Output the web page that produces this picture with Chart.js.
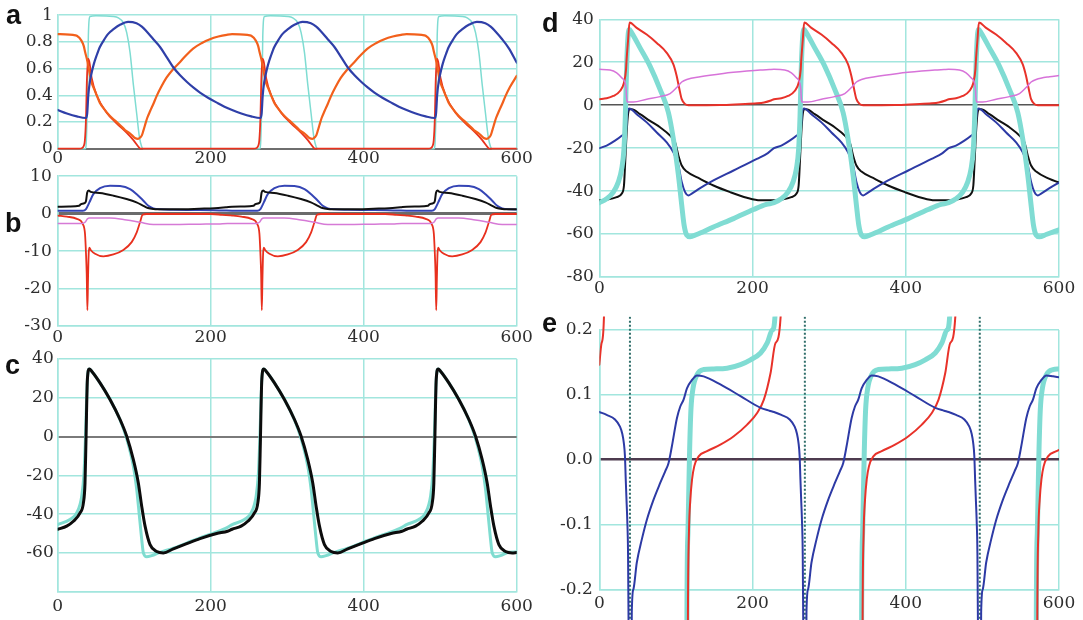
<!DOCTYPE html>
<html><head><meta charset="utf-8">
<script src="https://cdn.jsdelivr.net/npm/chart.js@4/dist/chart.umd.min.js"></script>
<style>
body{margin:0;background:#fff;width:1083px;height:620px;overflow:hidden;position:relative}
canvas{position:absolute}
.lbl{position:absolute;font:bold 27px "Liberation Sans",Arial,sans-serif;line-height:27px;color:#111}
</style></head><body>
<canvas id="pa" width="545" height="175" style="left:0;top:0"></canvas>
<canvas id="pb" width="545" height="190" style="left:0;top:160px"></canvas>
<canvas id="pc" width="545" height="280" style="left:0;top:340px"></canvas>
<canvas id="pd" width="543" height="300" style="left:540px;top:0"></canvas>
<canvas id="pe" width="543" height="320" style="left:540px;top:300px"></canvas>
<div class="lbl" style="left:6px;top:2px">a</div>
<div class="lbl" style="left:5px;top:210px">b</div>
<div class="lbl" style="left:5px;top:352px">c</div>
<div class="lbl" style="left:542px;top:10px">d</div>
<div class="lbl" style="left:542px;top:310px">e</div>
<script>
// ---------- tick labels ----------
const xTicks = [0, 200, 400, 600];
const xLabels = ['0', '200', '400', '600'];
const aYTicks = [0, 0.2, 0.4, 0.6, 0.8, 1];
const aYLabels = ['0', '0.2', '0.4', '0.6', '0.8', '1'];
const bYTicks = [-30, -20, -10, 0, 10];
const bYLabels = ['-30', '-20', '-10', '0', '10'];
const cYTicks = [-80, -60, -40, -20, 0, 20, 40];
const cYLabels = ['', '-60', '-40', '-20', '0', '20', '40'];
const dYTicks = [-80, -60, -40, -20, 0, 20, 40];
const dYLabels = ['-80', '-60', '-40', '-20', '0', '20', '40'];
const eYTicks = [-0.2, -0.1, 0, 0.1, 0.2];
const eYLabels = ['-0.2', '-0.1', '0.0', '0.1', '0.2'];

// ---------- panel a ----------
const aBlue = [[0,.29],[12,.264],[25,.242],[37,.23],[38.5,.26],[40,.40],[42,.50],[44,.56],[47,.63],[51,.70],[55,.76],[60,.81],[66,.86],[73,.895],[82,.93],[92,.95],[103,.94],[110,.915],[116,.88],[125,.82],[134,.76],[142,.69],[151,.61],[160,.55],[169,.50],[178,.455],[186,.42],[197,.38],[208,.345],[218,.315],
[228,.29],[240,.264],[253,.242],[265,.23],[266.5,.26],[268,.40],[270,.50],[272,.56],[275,.63],[279,.70],[283,.76],[288,.81],[294,.86],[301,.895],[310,.93],[320,.95],[331,.94],[338,.915],[344,.88],[353,.82],[362,.76],[370,.69],[379,.61],[388,.55],[397,.50],[406,.455],[414,.42],[425,.38],[436,.345],[446,.315],
[456,.29],[468,.264],[481,.242],[493,.23],[494.5,.26],[496,.40],[498,.50],[500,.56],[503,.63],[507,.70],[511,.76],[516,.81],[522,.86],[529,.895],[538,.93],[548,.95],[559,.94],[566,.915],[572,.88],[581,.82],[590,.75],[600,.645]];
const aOrange = [[0,.858],[10,.857],[20,.852],[25,.846],[31,.81],[34,.77],[36,.72],[39,.65],[41.5,.57],[44,.50],[47,.455],[51,.40],[55,.345],[61,.295],[68,.247],[75,.21],[82,.174],[88,.14],[95,.112],[101,.08],[105,.073],[108,.085],[110,.10],[112,.135],[114,.174],[117,.23],[121,.284],[125,.335],[129,.39],[135,.46],[142,.53],[150,.59],[160,.65],[168,.70],[177,.75],[188,.79],[199,.82],[210,.84],[221,.853],
[228,.858],[238,.857],[248,.852],[253,.846],[259,.81],[262,.77],[264,.72],[267,.65],[269.5,.57],[272,.50],[275,.455],[279,.40],[283,.345],[289,.295],[296,.247],[303,.21],[310,.174],[316,.14],[323,.112],[329,.08],[333,.073],[336,.085],[338,.10],[340,.135],[342,.174],[345,.23],[349,.284],[353,.335],[357,.39],[363,.46],[370,.53],[378,.59],[388,.65],[396,.70],[405,.75],[416,.79],[427,.82],[438,.84],[449,.853],
[456,.858],[466,.857],[476,.852],[481,.846],[487,.81],[490,.77],[492,.72],[495,.65],[497.5,.57],[500,.50],[503,.455],[507,.40],[511,.345],[517,.295],[524,.247],[531,.21],[538,.174],[544,.14],[551,.112],[557,.08],[561,.073],[564,.085],[566,.10],[568,.135],[570,.174],[573,.23],[577,.284],[581,.335],[585,.39],[591,.46],[600,.545]];
const aRed = [[0,0],[28,0],[32,.005],[34,.02],[35.5,.06],[37,.23],[38,.48],[39.5,.675],[41.4,.65],[44.4,.53],[51,.40],[64,.27],[77,.19],[90,.12],[99,.064],[107,.005],[108,0],
[256,0],[260,.005],[262,.02],[263.5,.06],[265,.23],[266,.48],[267.5,.675],[269.4,.65],[272.4,.53],[279,.40],[292,.27],[305,.19],[318,.12],[327,.064],[335,.005],[336,0],
[484,0],[488,.005],[490,.02],[491.5,.06],[493,.23],[494,.48],[495.5,.675],[497.4,.65],[500.4,.53],[507,.40],[520,.27],[533,.19],[546,.12],[555,.064],[563,.005],[564,0],[600,0]];
const aCyan = [[0,0],[36,0],[37,.02],[38.8,.36],[40.1,.85],[42.3,.99],[50,.995],[72.8,.99],[79.3,.98],[85.8,.944],[90.2,.87],[94.6,.72],[98.9,.48],[103.3,.26],[106.8,.088],[109.8,.015],[112,0],
[264,0],[265,.02],[266.8,.36],[268.1,.85],[270.3,.99],[278,.995],[300.8,.99],[307.3,.98],[313.8,.944],[318.2,.87],[322.6,.72],[326.9,.48],[331.3,.26],[334.8,.088],[337.8,.015],[340,0],
[492,0],[493,.02],[494.8,.36],[496.1,.85],[498.3,.99],[506,.995],[528.8,.99],[535.3,.98],[541.8,.944],[546.2,.87],[550.6,.72],[554.9,.48],[559.3,.26],[562.8,.088],[565.8,.015],[568,0],[600,0]];

// ---------- panel b ----------
const bBlack = [[0,1.85],[15,1.9],[28,2.1],[30,2.5],[35,2.8],[37,3.4],[38.5,5.6],[40.5,6.2],[43,5.8],[55,5.5],[73,4.8],[90,3.9],[103,3.0],[112,2.1],[118,1.5],[125,1.25],[140,1.15],[165,1.15],[185,1.3],[205,1.45],[220,1.7],
[228,1.85],[243,1.9],[256,2.1],[258,2.5],[263,2.8],[265,3.4],[266.5,5.6],[268.5,6.2],[271,5.8],[283,5.5],[301,4.8],[318,3.9],[331,3.0],[340,2.1],[346,1.5],[353,1.25],[368,1.15],[393,1.15],[413,1.3],[433,1.45],[448,1.7],
[456,1.85],[471,1.9],[484,2.1],[486,2.5],[491,2.8],[493,3.4],[494.5,5.6],[496.5,6.2],[499,5.8],[511,5.5],[529,4.8],[546,3.9],[559,3.0],[568,2.1],[574,1.5],[581,1.25],[596,1.15],[600,1.15]];
const bBlue = [[0,.8],[33,.8],[37,1.24],[41.4,3.0],[46.6,5.2],[55.3,6.8],[68.4,7.45],[81.5,7.36],[94.6,6.56],[103.3,5.2],[112,3.46],[118.5,2.1],[125,1.42],[133.8,1.15],[151,1.06],[177,.98],[203,.9],[220,.82],
[228,.8],[261,.8],[265,1.24],[269.4,3.0],[274.6,5.2],[283.3,6.8],[296.4,7.45],[309.5,7.36],[322.6,6.56],[331.3,5.2],[340,3.46],[346.5,2.1],[353,1.42],[361.8,1.15],[379,1.06],[405,.98],[431,.9],[448,.82],
[456,.8],[489,.8],[493,1.24],[497.4,3.0],[502.6,5.2],[511.3,6.8],[524.4,7.45],[537.5,7.36],[550.6,6.56],[559.3,5.2],[568,3.46],[574.5,2.1],[581,1.42],[589.8,1.15],[600,1.1]];
const bPink = [[0,-2.6],[31,-2.6],[35.7,-2.3],[38.8,-1.4],[41.4,-1.15],[68,-1.15],[90,-1.7],[107.6,-2.3],[125,-2.9],[151,-2.9],[186,-2.8],[210,-2.75],[222,-2.6],
[228,-2.6],[259,-2.6],[263.7,-2.3],[266.8,-1.4],[269.4,-1.15],[296,-1.15],[318,-1.7],[335.6,-2.3],[353,-2.9],[379,-2.9],[414,-2.8],[438,-2.75],[450,-2.6],
[456,-2.6],[487,-2.6],[491.7,-2.3],[494.8,-1.4],[497.4,-1.15],[524,-1.15],[546,-1.7],[563.6,-2.3],[581,-2.9],[600,-2.9]];
const bRed = [[0,-.5],[12,-.8],[25,-1.4],[32.7,-2.75],[35.7,-5.4],[37,-10.7],[37.9,-16],[38.8,-25.8],[39.7,-17],[40.5,-10.7],[41.4,-9.1],[43.1,-9.7],[48.8,-10.7],[59.7,-11.4],[72.8,-10.9],[85.8,-9.7],[96.7,-7.6],[103.3,-5.0],[107.6,-2.3],[111,-.3],[116,-.1],[200,-.1],[215,-.3],[225,-.45],
[228,-.5],[240,-.8],[253,-1.4],[260.7,-2.75],[263.7,-5.4],[265,-10.7],[265.9,-16],[266.8,-25.8],[267.7,-17],[268.5,-10.7],[269.4,-9.1],[271.1,-9.7],[276.8,-10.7],[287.7,-11.4],[300.8,-10.9],[313.8,-9.7],[324.7,-7.6],[331.3,-5.0],[335.6,-2.3],[339,-.3],[344,-.1],[428,-.1],[443,-.3],[453,-.45],
[456,-.5],[468,-.8],[481,-1.4],[488.7,-2.75],[491.7,-5.4],[493,-10.7],[493.9,-16],[494.8,-25.8],[495.7,-17],[496.5,-10.7],[497.4,-9.1],[499.1,-9.7],[504.8,-10.7],[515.7,-11.4],[528.8,-10.9],[541.8,-9.7],[552.7,-7.6],[559.3,-5.0],[563.6,-2.3],[567,-.3],[572,-.1],[600,-.1]];

// ---------- panel c ----------
const cBlack = [[0,-47.8],[11.8,-46.2],[20.5,-43.7],[29.2,-39.4],[33.6,-34.2],[35.7,-23.9],[37,-1.5],[38.8,29.4],[41.4,34.9],[44.4,33.7],[55.3,27.7],[68.4,19.1],[81.5,8.8],[90.2,.2],[98.9,-11.9],[105.4,-23.9],[109.8,-35.9],[114.2,-46.2],[120.7,-55.7],[129.4,-59.3],[138.1,-60],[151.2,-57.9],[168.6,-55.2],[186,-52.6],[207.8,-50],[222,-48.8],
[228,-47.8],[239.8,-46.2],[248.5,-43.7],[257.2,-39.4],[261.6,-34.2],[263.7,-23.9],[265,-1.5],[266.8,29.4],[269.4,34.9],[272.4,33.7],[283.3,27.7],[296.4,19.1],[309.5,8.8],[318.2,.2],[326.9,-11.9],[333.4,-23.9],[337.8,-35.9],[342.2,-46.2],[348.7,-55.7],[357.4,-59.3],[366.1,-60],[379.2,-57.9],[396.6,-55.2],[414,-52.6],[435.8,-50],[450,-48.8],
[456,-47.8],[467.8,-46.2],[476.5,-43.7],[485.2,-39.4],[489.6,-34.2],[491.7,-23.9],[493,-1.5],[494.8,29.4],[497.4,34.9],[500.4,33.7],[511.3,27.7],[524.4,19.1],[537.5,8.8],[546.2,.2],[554.9,-11.9],[561.4,-23.9],[565.8,-35.9],[570.2,-46.2],[576.7,-55.7],[585.4,-59.3],[594.1,-60],[600,-59.8]];
const cCyan = [[0,-45.4],[16,-42.8],[24.8,-39.4],[31.4,-30.8],[34.4,-18.7],[36.2,-1.5],[38.8,29.4],[41.4,34.9],[44.4,33.7],[55.3,27.7],[68.4,19.1],[81.5,8.6],[90.2,-1],[98.9,-15.3],[103.3,-27.3],[106.8,-41],[109.8,-53],[112,-60],[116.3,-62],[122.8,-61.4],[133.8,-59.7],[151.2,-57.6],[168.6,-54.9],[186,-52.2],[207.8,-49.2],[222,-46.8],
[228,-45.4],[244,-42.8],[252.8,-39.4],[259.4,-30.8],[262.4,-18.7],[264.2,-1.5],[266.8,29.4],[269.4,34.9],[272.4,33.7],[283.3,27.7],[296.4,19.1],[309.5,8.6],[318.2,-1],[326.9,-15.3],[331.3,-27.3],[334.8,-41],[337.8,-53],[340,-60],[344.3,-62],[350.8,-61.4],[361.8,-59.7],[379.2,-57.6],[396.6,-54.9],[414,-52.2],[435.8,-49.2],[450,-46.8],
[456,-45.4],[472,-42.8],[480.8,-39.4],[487.4,-30.8],[490.4,-18.7],[492.2,-1.5],[494.8,29.4],[497.4,34.9],[500.4,33.7],[511.3,27.7],[524.4,19.1],[537.5,8.6],[546.2,-1],[554.9,-15.3],[559.3,-27.3],[562.8,-41],[565.8,-53],[568,-60],[572.3,-62],[578.8,-61.4],[589.8,-59.7],[600,-59.5]];

// ---------- panel d ----------
const dRed = [[0,2.8],[9.6,3.2],[18.3,4.3],[27,6.6],[32.2,10.5],[34.9,16.7],[35.5,20.5],[37.5,30],[39.5,38.5],[48.8,36],[61.9,32.9],[75,29],[88,24.4],[96.7,19],[101,13.6],[104.6,7.4],[107.6,2.8],[112,.5],[116.3,0],[158,.1],[184,.5],[206,.9],[215,1.3],[224,2.2],
[228,2.8],[237.6,3.2],[246.3,4.3],[255,6.6],[260.2,10.5],[262.9,16.7],[263.5,20.5],[265.5,30],[267.5,38.5],[276.8,36],[289.9,32.9],[303,29],[316,24.4],[324.7,19],[329,13.6],[332.6,7.4],[335.6,2.8],[340,.5],[344.3,0],[386,.1],[412,.5],[434,.9],[443,1.3],[452,2.2],
[456,2.8],[465.6,3.2],[474.3,4.3],[483,6.6],[488.2,10.5],[490.9,16.7],[491.5,20.5],[493.5,30],[495.5,38.5],[504.8,36],[517.9,32.9],[531,29],[544,24.4],[552.7,19],[557,13.6],[560.6,7.4],[563.6,2.8],[568,.5],[572.3,0],[600,0]];
const dMagenta = [[0,16.7],[14,16.4],[22.7,15.1],[29.2,12.8],[33.6,10.5],[35,7.4],[35.5,4],[36.6,1.5],[44.4,1.5],[61.9,2.8],[79.3,4.0],[92.4,5.4],[101,8.2],[107.6,10.8],[114.2,12],[131.6,13.3],[162,14.8],[192.6,15.9],[210,16.4],[222,16.6],
[228,16.7],[242,16.4],[250.7,15.1],[257.2,12.8],[261.6,10.5],[263,7.4],[263.5,4],[264.6,1.5],[272.4,1.5],[289.9,2.8],[307.3,4.0],[320.4,5.4],[329,8.2],[335.6,10.8],[342.2,12],[359.6,13.3],[390,14.8],[420.6,15.9],[438,16.4],[450,16.6],
[456,16.7],[470,16.4],[478.7,15.1],[485.2,12.8],[489.6,10.5],[491,7.4],[491.5,4],[492.6,1.5],[500.4,1.5],[517.9,2.8],[535.3,4.0],[548.4,5.4],[557,8.2],[563.6,10.8],[570.2,12],[587.6,13.3],[600,13.8]];
const dBlue = [[0,-20],[9.6,-18.8],[20.5,-16.5],[29.2,-14.2],[33.6,-12.7],[35,-11],[36.6,-3.4],[39.2,-1.5],[48.8,-4.2],[61.9,-8],[75,-12.7],[88,-17.3],[96.7,-21.9],[103.3,-28.1],[107.6,-35.8],[112,-40.5],[116.3,-42],[120.7,-41.2],[131.6,-38.6],[149,-35],[175.2,-30.4],[205.7,-25],[220,-22.3],
[228,-20],[237.6,-18.8],[248.5,-16.5],[257.2,-14.2],[261.6,-12.7],[263,-11],[264.6,-3.4],[267.2,-1.5],[276.8,-4.2],[289.9,-8],[303,-12.7],[316,-17.3],[324.7,-21.9],[331.3,-28.1],[335.6,-35.8],[340,-40.5],[344.3,-42],[348.7,-41.2],[359.6,-38.6],[377,-35],[403.2,-30.4],[433.7,-25],[448,-22.3],
[456,-20],[465.6,-18.8],[476.5,-16.5],[485.2,-14.2],[489.6,-12.7],[491,-11],[492.6,-3.4],[495.2,-1.5],[504.8,-4.2],[517.9,-8],[531,-12.7],[544,-17.3],[552.7,-21.9],[559.3,-28.1],[563.6,-35.8],[568,-40.5],[572.3,-42],[576.7,-41.2],[587.6,-38.6],[600,-36]];
const dBlack = [[0,-44.3],[9.6,-44],[22.7,-42.8],[29.2,-41.2],[32.2,-37.4],[34,-25],[35.7,-12.7],[37.5,-4.2],[39.2,-1.9],[42.3,-1.9],[53.2,-4.2],[66.2,-7.3],[79.3,-10.3],[92.4,-14.2],[98.9,-17.3],[103.3,-23.5],[107.6,-28.1],[114.2,-30.9],[131.6,-34.3],[149,-37.4],[170.8,-40.5],[192.6,-43.1],[210,-44.3],[222,-44.3],
[228,-44.3],[237.6,-44],[250.7,-42.8],[257.2,-41.2],[260.2,-37.4],[262,-25],[263.7,-12.7],[265.5,-4.2],[267.2,-1.9],[270.3,-1.9],[281.2,-4.2],[294.2,-7.3],[307.3,-10.3],[320.4,-14.2],[326.9,-17.3],[331.3,-23.5],[335.6,-28.1],[342.2,-30.9],[359.6,-34.3],[377,-37.4],[398.8,-40.5],[420.6,-43.1],[438,-44.3],[450,-44.3],
[456,-44.3],[465.6,-44],[478.7,-42.8],[485.2,-41.2],[488.2,-37.4],[490,-25],[491.7,-12.7],[493.5,-4.2],[495.2,-1.9],[498.3,-1.9],[509.2,-4.2],[522.2,-7.3],[535.3,-10.3],[548.4,-14.2],[554.9,-17.3],[559.3,-23.5],[563.6,-28.1],[570.2,-30.9],[587.6,-34.3],[600,-36]];
const dCyan = [[0,-45.4],[9.6,-43.6],[18.3,-40.5],[24.8,-35.8],[29.2,-29.7],[32.2,-20.4],[34,-4.9],[35.7,18.2],[37.5,32.1],[39.2,35.2],[42.3,33.7],[53.2,26.7],[66.2,18.2],[79.3,7.4],[90.2,-3.4],[96.7,-15.8],[103.3,-32.7],[107.6,-46.6],[110.7,-55.9],[114.2,-60.5],[118.5,-61.3],[127.2,-60.2],[149,-56.7],[175.2,-52.8],[201.3,-48.6],[218,-46.2],
[228,-45.4],[237.6,-43.6],[246.3,-40.5],[252.8,-35.8],[257.2,-29.7],[260.2,-20.4],[262,-4.9],[263.7,18.2],[265.5,32.1],[267.2,35.2],[270.3,33.7],[281.2,26.7],[294.2,18.2],[307.3,7.4],[318.2,-3.4],[324.7,-15.8],[331.3,-32.7],[335.6,-46.6],[338.7,-55.9],[342.2,-60.5],[346.5,-61.3],[355.2,-60.2],[377,-56.7],[403.2,-52.8],[429.3,-48.6],[446,-46.2],
[456,-45.4],[465.6,-43.6],[474.3,-40.5],[480.8,-35.8],[485.2,-29.7],[488.2,-20.4],[490,-4.9],[491.7,18.2],[493.5,32.1],[495.2,35.2],[498.3,33.7],[509.2,26.7],[522.2,18.2],[535.3,7.4],[546.2,-3.4],[552.7,-15.8],[559.3,-32.7],[563.6,-46.6],[566.7,-55.9],[570.2,-60.5],[574.5,-61.3],[583.2,-60.2],[600,-58]];

// ---------- panel e ----------
const eBlue = [[0,.0735],[9.6,.069],[20.5,.062],[27,.051],[30,.04],[32,.026],[33.5,.005],[34.5,-.03],[35.5,-.062],[36.5,-.093],[37.5,-.144],[38.5,-.3],[39.3,-.6],[41.5,-.6],[42.4,-.236],[44.5,-.2],[48.9,-.159],[55.5,-.123],[62,-.093],[70.7,-.062],[79.5,-.036],[86,-.018],[90.4,-.005],[94.8,.021],[101.3,.064],[105.7,.082],[110,.0925],[114.4,.11],[121,.123],[127.5,.13],[136.2,.1285],[158,.116],[184.3,.098],[210.5,.08],[222,.0755],
[228,.0735],[237.6,.069],[248.5,.062],[255,.051],[258,.04],[260,.026],[261.5,.005],[262.5,-.03],[263.5,-.062],[264.5,-.093],[265.5,-.144],[266.5,-.3],[267.3,-.6],[269.5,-.6],[270.4,-.236],[272.5,-.2],[276.9,-.159],[283.5,-.123],[290,-.093],[298.7,-.062],[307.5,-.036],[314,-.018],[318.4,-.005],[322.8,.021],[329.3,.064],[333.7,.082],[338,.0925],[342.4,.11],[349,.123],[355.5,.13],[364.2,.1285],[386,.116],[412.3,.098],[438.5,.08],[450,.0755],
[456,.0735],[465.6,.069],[476.5,.062],[483,.051],[486,.04],[488,.026],[489.5,.005],[490.5,-.03],[491.5,-.062],[492.5,-.093],[493.5,-.144],[494.5,-.3],[495.3,-.6],[497.5,-.6],[498.4,-.236],[500.5,-.2],[504.9,-.159],[511.5,-.123],[518,-.093],[526.7,-.062],[535.5,-.036],[542,-.018],[546.4,-.005],[550.8,.021],[557.3,.064],[561.7,.082],[566,.0925],[570.4,.11],[577,.123],[583.5,.13],[592.2,.1285],[600,.127]];
const eRed = [[0,.1465],[3,.18],[6.1,.221],[7,.4],[60,null],
[114.8,-.6],[115.7,-.236],[117,-.113],[118.8,-.062],[121,-.031],[124,-.01],[129.7,.005],[140.6,.013],[158,.023],[175.5,.036],[193,.054],[206,.072],[214.8,.0925],[223.6,.134],[230,.18],[236.7,.221],[238,.4],[290,null],
[342.8,-.6],[343.7,-.236],[345,-.113],[346.8,-.062],[349,-.031],[352,-.01],[357.7,.005],[368.6,.013],[386,.023],[403.5,.036],[421,.054],[434,.072],[442.8,.0925],[451.6,.134],[458,.18],[464.7,.221],[466,.4],[520,null],
[570.8,-.6],[571.7,-.236],[573,-.113],[574.8,-.062],[577,-.031],[580,-.01],[585.7,.005],[596.6,.013],[600,.015]];
const eCyan = [[114,-.6],[114.4,-.236],[115.7,-.113],[117,-.036],[117.9,.015],[119.6,.077],[122.3,.11],[127.5,.131],[136.2,.139],[149.3,.14],[166.8,.141],[184.3,.1465],[197.4,.154],[210.5,.1645],[219.2,.18],[225.8,.2],[229.3,.221],[230,.4],[290,null],
[342,-.6],[342.4,-.236],[343.7,-.113],[345,-.036],[345.9,.015],[347.6,.077],[350.3,.11],[355.5,.131],[364.2,.139],[377.3,.14],[394.8,.141],[412.3,.1465],[425.4,.154],[438.5,.1645],[447.2,.18],[453.8,.2],[457.3,.221],[458,.4],[520,null],
[570,-.6],[570.4,-.236],[571.7,-.113],[573,-.036],[573.9,.015],[575.6,.077],[578.3,.11],[583.5,.131],[592.2,.139],[600,.14]];
const eAsymptote = [[40,.2205],[40,-.3],[150,null],[268.3,.2205],[268.3,-.3],[380,null],[496.6,.2205],[496.6,-.3]];

// ---------- drawing ----------
const GRID = '#a2e6de';
const FONT = {family: '"DejaVu Serif", serif', size: 17};
const TICKC = '#2e2e2e';
function xy(a){ return a.map(p => ({x: p[0], y: p[1]})); }
function ds(data, color, w, order, extra){
  return Object.assign({data: xy(data), borderColor: color, backgroundColor: color, borderWidth: w, order: order,
    pointRadius: 0, fill: false, cubicInterpolationMode: 'monotone', spanGaps: false, borderCapStyle: 'round', borderJoinStyle: 'round'}, extra || {});
}
function panel(id, o){
  const isZero = c => o.zero && c.tick && Math.abs(c.tick.value) < 1e-9;
  new Chart(document.getElementById(id), {
    type: 'line',
    data: {datasets: o.datasets},
    options: {
      responsive: false, animation: false, events: [],
      layout: {padding: {top: o.pt, right: o.pr, left: 0, bottom: 0}},
      plugins: {legend: {display: false}, tooltip: {enabled: false}},
      scales: {
        x: {type: 'linear', min: 0, max: 600,
          afterBuildTicks: s => { s.ticks = xTicks.map(v => ({value: v})); },
          afterFit: s => { s.height = o.xh; },
          grid: {color: GRID, lineWidth: 1.5, drawTicks: false},
          border: {color: o.xBorder || GRID, width: o.xBorderW || 1.5},
          ticks: {font: FONT, color: TICKC, padding: o.xpad, maxRotation: 0, autoSkip: false,
            callback: (v, i) => xLabels[i]}},
        y: {type: 'linear', min: o.min, max: o.max,
          afterBuildTicks: s => { s.ticks = o.yTicks.map(v => ({value: v})); },
          afterFit: s => { s.width = o.yw; },
          grid: {color: c => isZero(c) ? o.zero : GRID, lineWidth: c => isZero(c) ? o.zeroW : 1.5, drawTicks: false},
          border: {color: GRID, width: 1.5},
          ticks: {font: FONT, color: TICKC, padding: o.ypad, autoSkip: false,
            callback: (v, i) => o.yLabels[i]}}
      }
    }
  });
}
const clipA = {left: 0, right: 0, top: 3, bottom: 3};
panel('pa', {min: 0, max: 1, yTicks: aYTicks, yLabels: aYLabels, pt: 12.3, pr: 28.3, yw: 57.7, xh: 26.3, xpad: 0, ypad: 5,
  zero: '#6e6e6e', zeroW: 2, xBorder: '#6e6e6e', xBorderW: 2,
  datasets: [
    ds(aCyan, '#7fdcd2', 1.5, 4, {clip: clipA}),
    ds(aRed, '#e8321e', 1.8, 3, {clip: clipA}),
    ds(aOrange, '#f2601c', 2.2, 2, {clip: clipA}),
    ds(aBlue, '#2f3fa8', 2.2, 1, {clip: clipA})
  ]});
panel('pb', {min: -30, max: 10, yTicks: bYTicks, yLabels: bYLabels, pt: 15.7, pr: 28.3, yw: 57.7, xh: 24, xpad: 1, ypad: 6,
  zero: '#6b6b6b', zeroW: 3,
  datasets: [
    ds(bRed, '#e8301e', 1.8, 4),
    ds(bPink, '#d67ad6', 1.5, 3),
    ds(bBlue, '#3545b5', 2, 2),
    ds(bBlack, '#111111', 2, 1)
  ]});
panel('pc', {min: -80, max: 40, yTicks: cYTicks, yLabels: cYLabels, pt: 19, pr: 28.3, yw: 57.7, xh: 28.3, xpad: 4.5, ypad: 4,
  zero: '#7a7a7a', zeroW: 2,
  datasets: [
    ds(cCyan, '#7fdcd0', 3, 2),
    ds(cBlack, '#0c0c0c', 3, 1)
  ]});
panel('pd', {min: -80, max: 40, yTicks: dYTicks, yLabels: dYLabels, pt: 19.3, pr: 24, yw: 59.3, xh: 23, xpad: 1, ypad: 5.5,
  zero: '#555555', zeroW: 1.5,
  datasets: [
    ds(dBlack, '#111111', 2, 5),
    ds(dBlue, '#2d3aa5', 2, 4),
    ds(dCyan, '#80dcd3', 5, 3),
    ds(dRed, '#e8322a', 2, 2),
    ds(dMagenta, '#d773d9', 1.5, 1)
  ]});
const clipE = {left: 0, right: 0, top: 13.5, bottom: 31};
panel('pe', {min: -0.2, max: 0.2, yTicks: eYTicks, yLabels: eYLabels, pt: 30, pr: 24, yw: 59.3, xh: 30.7, xpad: 3.7, ypad: 6.5,
  zero: '#4d3b4f', zeroW: 2.5,
  datasets: [
    ds(eCyan, '#80dcd3', 5, 4, {clip: clipE}),
    ds(eAsymptote, '#2f6e6a', 2, 3, {clip: clipE, cubicInterpolationMode: 'default', tension: 0, borderDash: [2, 2], borderCapStyle: 'butt'}),
    ds(eRed, '#e8322a', 2, 2, {clip: clipE}),
    ds(eBlue, '#2d3aa5', 2, 1, {clip: clipE})
  ]});
</script>
</body></html>
